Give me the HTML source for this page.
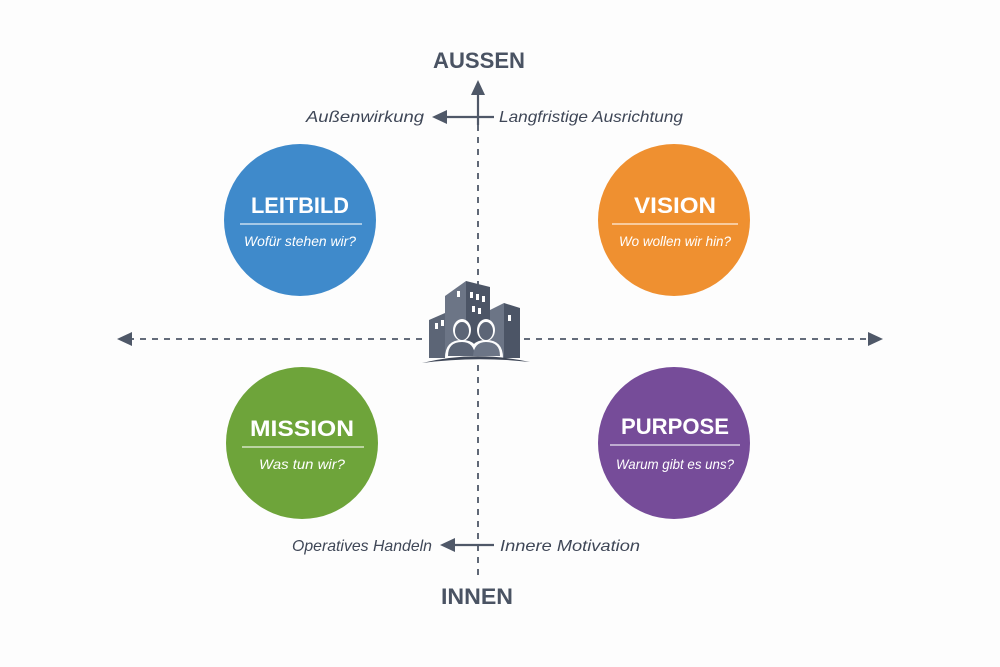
<!DOCTYPE html>
<html><head><meta charset="utf-8"><style>
html,body{margin:0;padding:0;background:#fff}
svg{display:block}
text{font-family:"Liberation Sans",sans-serif}
</style></head><body>
<svg width="1000" height="667" viewBox="0 0 1000 667">
<rect width="1000" height="667" fill="#fdfdfd"/>
<g stroke="#4f5868" stroke-width="1.8" fill="none">
<line x1="478" y1="125" x2="478" y2="580" stroke-dasharray="6,6"/>
<line x1="128" y1="339" x2="872" y2="339" stroke-dasharray="6,6"/>
<line x1="478" y1="92" x2="478" y2="125" stroke-width="2.2"/>
<line x1="445" y1="117" x2="494" y2="117" stroke-width="2.2"/>
<line x1="452" y1="545" x2="494" y2="545" stroke-width="2.2"/>
</g>
<g fill="#4f5868">
<polygon points="478,80 471,95 485,95"/>
<polygon points="432,117 447,110 447,124"/>
<polygon points="440,545 455,538 455,552"/>
<polygon points="117,339 132,332 132,346"/>
<polygon points="883,339 868,332 868,346"/>
</g>
<g fill="#4a5363" font-weight="bold" font-size="22" text-anchor="middle">
<text x="479" y="68" textLength="92" lengthAdjust="spacingAndGlyphs">AUSSEN</text>
<text x="477" y="604" textLength="72" lengthAdjust="spacingAndGlyphs">INNEN</text>
</g>
<g fill="#3f4757" font-style="italic" font-size="16">
<text x="306" y="122" textLength="118" lengthAdjust="spacingAndGlyphs">Außenwirkung</text>
<text x="499" y="122" textLength="184" lengthAdjust="spacingAndGlyphs">Langfristige Ausrichtung</text>
<text x="292" y="551" textLength="140" lengthAdjust="spacingAndGlyphs">Operatives Handeln</text>
<text x="500" y="551" textLength="140" lengthAdjust="spacingAndGlyphs">Innere Motivation</text>
</g>
<circle cx="300" cy="220" r="76" fill="#3f8acb"/>
<circle cx="674" cy="220" r="76" fill="#ef9030"/>
<circle cx="302" cy="443" r="76" fill="#6ea43a"/>
<circle cx="674" cy="443" r="76" fill="#764c99"/>
<g stroke="#ffffff" stroke-opacity="0.85" stroke-width="1.3">
<line x1="240" y1="224" x2="362" y2="224"/>
<line x1="612" y1="224" x2="738" y2="224"/>
<line x1="242" y1="447" x2="364" y2="447"/>
<line x1="610" y1="445" x2="740" y2="445"/>
</g>
<g fill="#fff" text-anchor="middle">
<g font-weight="bold" font-size="22">
<text x="300" y="213" textLength="98" lengthAdjust="spacingAndGlyphs">LEITBILD</text>
<text x="675" y="213" textLength="82" lengthAdjust="spacingAndGlyphs">VISION</text>
<text x="302" y="436" textLength="104" lengthAdjust="spacingAndGlyphs">MISSION</text>
<text x="675" y="434" textLength="108" lengthAdjust="spacingAndGlyphs">PURPOSE</text>
</g>
<g font-style="italic" font-size="14">
<text x="300" y="246" textLength="112" lengthAdjust="spacingAndGlyphs">Wofür stehen wir?</text>
<text x="675" y="246" textLength="112" lengthAdjust="spacingAndGlyphs">Wo wollen wir hin?</text>
<text x="302" y="469" textLength="86" lengthAdjust="spacingAndGlyphs">Was tun wir?</text>
<text x="675" y="469" textLength="118" lengthAdjust="spacingAndGlyphs">Warum gibt es uns?</text>
</g>
</g>
<rect x="428" y="300" width="93" height="60" fill="#fdfdfd"/>
<g>
<polygon points="429,320 445,313 445,358 429,358" fill="#5c6576"/>
<polygon points="445,296 466,281 466,358 445,358" fill="#6c7586"/>
<polygon points="466,281 490,287 490,358 466,358" fill="#4c5566"/>
<polygon points="490,310 504,303 504,358 490,358" fill="#6c7586"/>
<polygon points="504,303 520,308 520,358 504,358" fill="#4c5566"/>
<g fill="#fff">
<rect x="435" y="323" width="3" height="6"/><rect x="441" y="320" width="3" height="6"/>
<rect x="457" y="291" width="3" height="6"/>
<rect x="470" y="292" width="3" height="6"/><rect x="476" y="294" width="3" height="6"/><rect x="482" y="296" width="3" height="6"/>
<rect x="472" y="306" width="3" height="6"/><rect x="478" y="308" width="3" height="6"/>
<rect x="508" y="315" width="3" height="6"/>
</g>
<g fill="#fdfdfd">
<ellipse cx="462" cy="330" rx="9" ry="11"/>
<path d="M445 358 Q445 340 462 340 Q479 340 479 358Z"/>
<ellipse cx="486" cy="330" rx="9" ry="11"/>
<path d="M469 358 Q469 340 486 340 Q503 340 503 358Z"/>
</g>
<g fill="#5c6576">
<ellipse cx="462" cy="331" rx="7" ry="9"/>
<path d="M448 356 Q448 342 462 342 Q474 342 475 356Z"/>
<ellipse cx="486" cy="331" rx="7" ry="9"/>
<path d="M473 356 Q474 342 486 342 Q500 342 500 356Z" fill="#6c7586"/>
</g>
<path d="M422 363 Q475 350 530 362 Q475 356 422 363Z" fill="#3f4757"/>
</g>
</svg>
</body></html>
